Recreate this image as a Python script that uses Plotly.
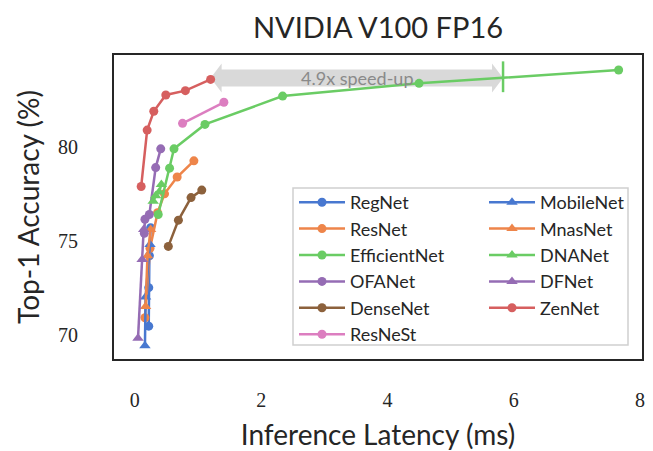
import plotly.graph_objects as go

# ---------------- data ----------------
regnet_x = [0.22, 0.22, 0.23, 0.25]
regnet_y = [70.45, 72.5, 74.2, 75.7]
resnet_x = [0.16, 0.24, 0.36, 0.47, 0.67, 0.935]
resnet_y = [70.9, 74.6, 76.5, 77.5, 78.4, 79.26]
effnet_x = [0.37, 0.55, 0.62, 1.11, 2.34, 4.50, 7.66]
effnet_y = [76.4, 78.87, 79.9, 81.2, 82.71, 83.39, 84.10]
ofanet_x = [0.15, 0.16, 0.23, 0.33, 0.41]
ofanet_y = [75.4, 76.15, 76.4, 78.9, 79.9]
densenet_x = [0.53, 0.69, 0.89, 1.06]
densenet_y = [74.7, 76.1, 77.3, 77.7]
resnest_x = [0.755, 1.41]
resnest_y = [81.26, 82.38]
mobilenet_x = [0.16, 0.17, 0.24]
mobilenet_y = [69.4, 72.0, 74.8]
mnasnet_x = [0.17, 0.2, 0.25]
mnasnet_y = [71.5, 74.2, 75.6]
dnanet_x = [0.29, 0.33, 0.385, 0.42]
dnanet_y = [77.1, 77.4, 77.6, 78.0]
dfnet_x = [0.05, 0.115, 0.14]
dfnet_y = [69.8, 74.0, 75.6]
zennet_x = [0.10, 0.195, 0.30, 0.49, 0.80, 1.20]
zennet_y = [77.89, 80.9, 81.9, 82.77, 83.0, 83.6]
# EfficientNet latency matching ZenNet's best accuracy
eff_match_x = [5.83]
eff_match_y = [83.74]
speedup_label = "4.9x speed-up"

BLUE, ORANGE, GREEN, RED, PURPLE, BROWN, PINK = (
    "#4878d0", "#ee854a", "#6acc64", "#d65f5f", "#956cb4", "#8c613c", "#dc7ec0")

col1 = [
    ("RegNet", regnet_x, regnet_y, BLUE, "circle"),
    ("ResNet", resnet_x, resnet_y, ORANGE, "circle"),
    ("EfficientNet", effnet_x, effnet_y, GREEN, "circle"),
    ("OFANet", ofanet_x, ofanet_y, PURPLE, "circle"),
    ("DenseNet", densenet_x, densenet_y, BROWN, "circle"),
    ("ResNeSt", resnest_x, resnest_y, PINK, "circle"),
]
col2 = [
    ("MobileNet", mobilenet_x, mobilenet_y, BLUE, "triangle-up"),
    ("MnasNet", mnasnet_x, mnasnet_y, ORANGE, "triangle-up"),
    ("DNANet", dnanet_x, dnanet_y, GREEN, "triangle-up"),
    ("DFNet", dfnet_x, dfnet_y, PURPLE, "triangle-up"),
    ("ZenNet", zennet_x, zennet_y, RED, "circle"),
]

fig = go.Figure()

# arrow (built from the data endpoints)
x0, x1 = zennet_x[-1], eff_match_x[0]
ya = (zennet_y[-1] + eff_match_y[0]) / 2
xpx = 63.1  # px per ms
ypx = 18.8  # px per %
hl = 11 / xpx
bh = 8.5 / ypx
hh = 14.5 / ypx
path = (f"M{x0},{ya} L{x0+hl},{ya+hh} L{x0+hl},{ya+bh} L{x1-hl},{ya+bh} "
        f"L{x1-hl},{ya+hh} L{x1},{ya} L{x1-hl},{ya-hh} L{x1-hl},{ya-bh} "
        f"L{x0+hl},{ya-bh} L{x0+hl},{ya-hh} Z")
fig.add_shape(type="path", path=path, xref="x", yref="y",
              fillcolor="#d9d9d9", line=dict(width=0), layer="below")
fig.add_annotation(x=(x0 + x1) / 2, y=ya, text=speedup_label, showarrow=False,
                   font=dict(family="Lato", size=18, color="#8a8a8a"), xref="x", yref="y")

for name, xs, ys, c, sym in col1:
    fig.add_trace(go.Scatter(x=xs, y=ys, name=name, mode="lines+markers",
                             line=dict(color=c, width=2.5),
                             marker=dict(color=c, symbol=sym, size=9),
                             legend="legend", legendgroup=name))
for name, xs, ys, c, sym in col2:
    fig.add_trace(go.Scatter(x=xs, y=ys, name=name, mode="lines+markers",
                             line=dict(color=c, width=2.5),
                             marker=dict(color=c, symbol=sym, size=10 if sym != "circle" else 9),
                             legend="legend2", legendgroup=name))
fig.add_trace(go.Scatter(x=eff_match_x, y=eff_match_y, mode="markers", showlegend=False,
                         marker=dict(symbol="line-ns", size=22,
                                     line=dict(color=GREEN, width=2.5))))

# legend frame
fig.add_shape(type="rect", xref="paper", yref="paper",
              x0=(293 - 114) / 528, x1=(628 - 114) / 528,
              y0=(359 - 345) / 304, y1=(359 - 188) / 304,
              fillcolor="white", line=dict(color="#d0d0d0", width=1.5), layer="above")

legfont = dict(family="Lato", size=18, color="#262626")
fig.update_layout(
    width=653, height=451,
    margin=dict(l=114, r=11, t=55, b=92),
    paper_bgcolor="white", plot_bgcolor="white",
    title=dict(text="NVIDIA V100 FP16", xref="paper", x=0.5, xanchor="center",
               y=1 - 28 / 451, yanchor="middle",
               font=dict(family="Lato", size=29, color="#262626")),
    legend=dict(x=(294 - 114) / 528, y=(359 - 184) / 304, xanchor="left", yanchor="top",
                bgcolor="rgba(0,0,0,0)", font=legfont, itemwidth=46,
                traceorder="grouped", tracegroupgap=0),
    legend2=dict(x=(484 - 114) / 528, y=(359 - 184) / 304, xanchor="left", yanchor="top",
                 bgcolor="rgba(0,0,0,0)", font=legfont, itemwidth=46,
                 traceorder="grouped", tracegroupgap=0),
    font=dict(family="Lato", color="#262626"),
)
fig.update_xaxes(range=[-0.33, 8.03], tickvals=[0, 2, 4, 6, 8], showgrid=False, zeroline=False,
                 showline=True, mirror=True, linecolor="#262626", linewidth=2, automargin=False,
                 tickfont=dict(family="Liberation Serif", size=20, color="#262626"),
                 ticklabelstandoff=22,
                 title=dict(text="Inference Latency (ms)", font=dict(family="Lato", size=28), standoff=16))
fig.update_yaxes(range=[68.7, 84.9], tickvals=[70, 75, 80], showgrid=False, zeroline=False,
                 showline=True, mirror=True, linecolor="#262626", linewidth=2, automargin=False,
                 tickfont=dict(family="Liberation Serif", size=20, color="#262626"),
                 ticklabelstandoff=30,
                 title=dict(text="Top-1 Accuracy (%)", font=dict(family="Lato", size=28), standoff=10))

fig.write_html("out.html", post_script="document.body.style.margin='0';",
               config={"displayModeBar": False})
